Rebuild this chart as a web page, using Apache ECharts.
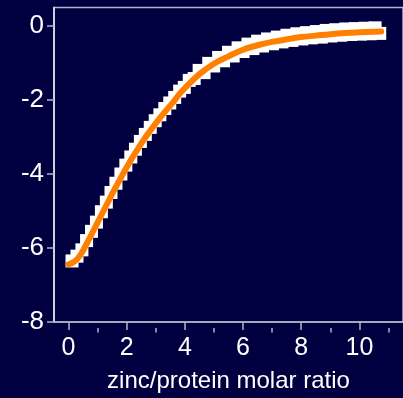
<!DOCTYPE html>
<html>
<head>
<meta charset="utf-8">
<script src="https://cdn.jsdelivr.net/npm/echarts@6/dist/echarts.min.js"></script>
<style>
html,body{margin:0;padding:0;background:#000040;}
#c{width:403px;height:398px;}
</style>
</head>
<body>
<div id="c"></div>
<script>
// measured data (white squares)
var dataX = [0.12,0.29,0.46,0.62,0.79,0.96,1.13,1.30,1.46,1.63,1.80,1.97,2.14,2.30,2.47,2.64,2.81,2.98,3.14,3.31,3.48,3.65,3.82,3.98,4.15,4.32,4.49,4.66,4.82,4.99,5.16,5.33,5.50,5.66,5.83,6.00,6.17,6.34,6.50,6.67,6.84,7.01,7.18,7.34,7.51,7.68,7.85,8.02,8.18,8.35,8.52,8.69,8.86,9.02,9.19,9.36,9.53,9.70,9.86,10.03,10.20,10.37,10.54,10.70];
var dataY = [-6.35,-6.22,-6.05,-5.80,-5.55,-5.30,-5.02,-4.76,-4.50,-4.25,-4.00,-3.76,-3.54,-3.33,-3.12,-2.93,-2.74,-2.56,-2.40,-2.23,-2.08,-1.93,-1.76,-1.66,-1.47,-1.42,-1.20,-1.26,-1.01,-1.08,-0.85,-0.94,-0.71,-0.81,-0.59,-0.69,-0.49,-0.61,-0.41,-0.54,-0.35,-0.48,-0.30,-0.43,-0.25,-0.39,-0.21,-0.35,-0.18,-0.32,-0.15,-0.30,-0.12,-0.27,-0.10,-0.25,-0.08,-0.23,-0.07,-0.22,-0.06,-0.21,-0.05,-0.20];
// fitted curve
var fitX = [0,0.2,0.4,0.6,0.8,1.0,1.2,1.4,1.6,1.8,2.0,2.2,2.4,2.6,2.8,3.0,3.2,3.4,3.6,3.8,4.0,4.5,5.0,5.5,6.0,6.5,7.0,7.5,8.0,8.5,9.0,9.5,10.0,10.5,10.75];
var fitY = [-6.44,-6.37,-6.20,-5.92,-5.62,-5.31,-5.00,-4.69,-4.39,-4.10,-3.82,-3.55,-3.30,-3.06,-2.84,-2.63,-2.43,-2.24,-2.06,-1.85,-1.68,-1.30,-1.02,-0.82,-0.64,-0.52,-0.43,-0.36,-0.30,-0.26,-0.22,-0.19,-0.17,-0.155,-0.15];
var xLabels = [0,2,4,6,8,10];
var xMinorTicks = [1,3,5,7,9,11];
var yTicks = [-8,-6,-4,-2,0];
var xName = 'zinc/protein molar ratio';

var font = '"Liberation Sans", Arial, sans-serif';
var pts = dataX.map(function(x,i){return [x,dataY[i]];});
var fit = fitX.map(function(x,i){return [x,fitY[i]];});

var chart = echarts.init(document.getElementById('c'), null, {renderer:'canvas'});
var gridPos = {left:54, top:7.5, width:350, bottom:70};
chart.setOption({
  backgroundColor:'#000040',
  animation:false,
  grid:[
    Object.assign({show:true, borderColor:'#b4b4c4', borderWidth:1.5, backgroundColor:'transparent', containLabel:false}, gridPos),
    Object.assign({show:false}, gridPos)
  ],
  xAxis:[{
    type:'value', gridIndex:0, min:-0.5, max:11.5,
    splitLine:{show:false},
    axisLine:{show:true, onZero:false, lineStyle:{color:'#b4b4c4', width:1.5}},
    axisTick:{show:true, length:8, customValues:xLabels, lineStyle:{color:'#b4b4c4', width:1.5}},
    axisLabel:{customValues:xLabels, color:'#ffffff', fontSize:25, fontFamily:font, margin:14},
    name:xName, nameLocation:'middle', nameGap:47,
    nameTextStyle:{color:'#ffffff', fontSize:24, fontFamily:font}
  },{
    type:'value', gridIndex:1, min:-0.5, max:11.5,
    splitLine:{show:false},
    axisLine:{show:false, onZero:false},
    axisTick:{show:true, length:4.5, customValues:xMinorTicks, lineStyle:{color:'#b4b4c4', width:1.5}},
    axisLabel:{show:false}
  }],
  yAxis:[{
    type:'value', gridIndex:0, min:-8, max:0.5,
    splitLine:{show:false},
    axisLine:{show:true, onZero:false, lineStyle:{color:'#e8e8f0', width:1.5}},
    axisTick:{show:true, length:7, customValues:yTicks, lineStyle:{color:'#b4b4c4', width:1.5}},
    axisLabel:{customValues:yTicks, color:'#ffffff', fontSize:26, fontFamily:font, margin:10}
  },{
    type:'value', gridIndex:1, min:-8, max:0.5, show:false
  }],
  series:[{
    type:'scatter', xAxisIndex:0, yAxisIndex:0, data:pts,
    symbol:'rect', symbolSize:13,
    itemStyle:{color:'#ffffff', opacity:1}, z:2
  },{
    type:'line', xAxisIndex:0, yAxisIndex:0, data:fit, smooth:0.4,
    showSymbol:false, symbol:'none',
    lineStyle:{color:'#ff8000', width:6, cap:'round', join:'round'}, z:3
  }]
});
</script>
</body>
</html>
